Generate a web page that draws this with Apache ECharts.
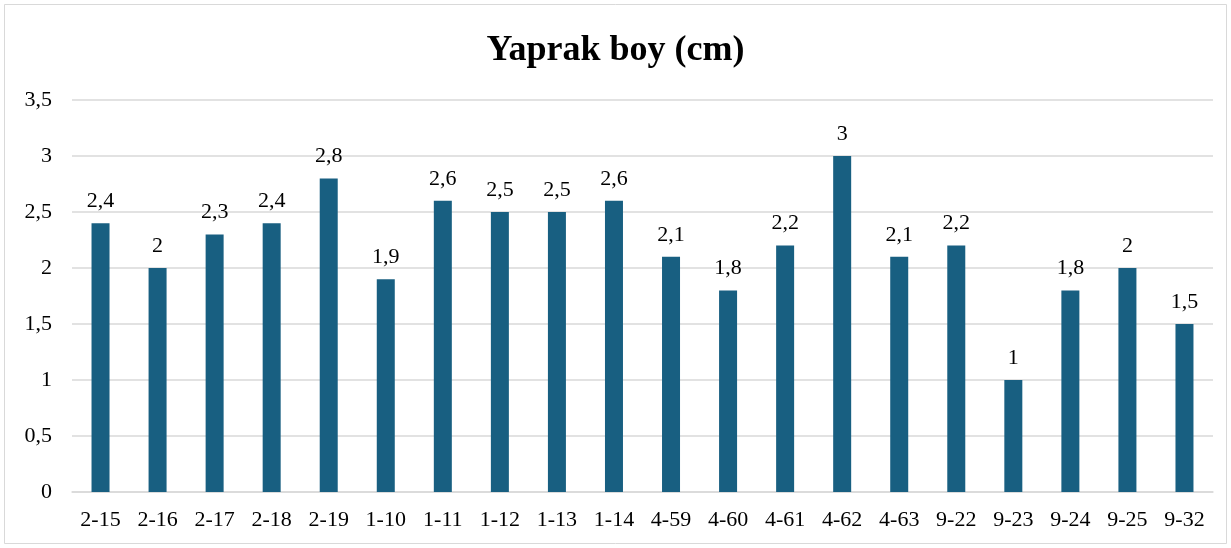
<!DOCTYPE html>
<html>
<head>
<meta charset="utf-8">
<script src="https://cdn.jsdelivr.net/npm/echarts@6/dist/echarts.min.js"></script>
<style>
html, body { margin: 0; padding: 0; background: #fff; }
#chart { width: 1231px; height: 548px; }
</style>
</head>
<body>
<div id="chart"></div>
<script>
var categories = ['2-15', '2-16', '2-17', '2-18', '2-19', '1-10', '1-11', '1-12', '1-13', '1-14',
    '4-59', '4-60', '4-61', '4-62', '4-63', '9-22', '9-23', '9-24', '9-25', '9-32'];
var values = [2.4, 2, 2.3, 2.4, 2.8, 1.9, 2.6, 2.5, 2.5, 2.6,
    2.1, 1.8, 2.2, 3, 2.1, 2.2, 1, 1.8, 2, 1.5];

var serif = "'Liberation Serif', 'DejaVu Serif', serif";

function comma(v) {
    return String(v).replace('.', ',');
}

var chart = echarts.init(document.getElementById('chart'));
var option = {
    backgroundColor: '#fff',
    textStyle: { fontFamily: serif },
    title: {
        text: 'Yaprak boy (cm)',
        left: 'center',
        top: 28,
        textStyle: { fontFamily: serif, fontSize: 36, fontWeight: 'bold', color: '#000' }
    },
    grid: {
        left: 72,
        right: 18,
        top: 100,
        bottom: 56
    },
    xAxis: {
        type: 'category',
        data: categories,
        axisLine: { lineStyle: { color: '#d9d9d9', width: 1.5 } },
        axisTick: { show: false },
        axisLabel: { color: '#000', fontSize: 22, margin: 17, fontFamily: serif }
    },
    yAxis: {
        type: 'value',
        min: 0,
        max: 3.5,
        interval: 0.5,
        axisLine: { show: false },
        axisTick: { show: false },
        splitLine: { lineStyle: { color: '#d9d9d9', width: 1.5 } },
        axisLabel: { color: '#000', fontSize: 22, margin: 20, fontFamily: serif, formatter: comma }
    },
    series: [{
        type: 'bar',
        data: values,
        barWidth: 18,
        itemStyle: { color: '#185f81' },
        label: {
            show: true,
            position: 'top',
            distance: 11,
            color: '#000',
            fontSize: 22,
            fontFamily: serif,
            formatter: function (p) { return comma(p.value); }
        }
    }],
    graphic: [{
        type: 'rect',
        shape: { x: 4.5, y: 4.5, width: 1222, height: 539 },
        style: { fill: 'none', stroke: '#d9d9d9', lineWidth: 1 },
        silent: true
    }]
};
chart.setOption(option);
</script>
</body>
</html>
